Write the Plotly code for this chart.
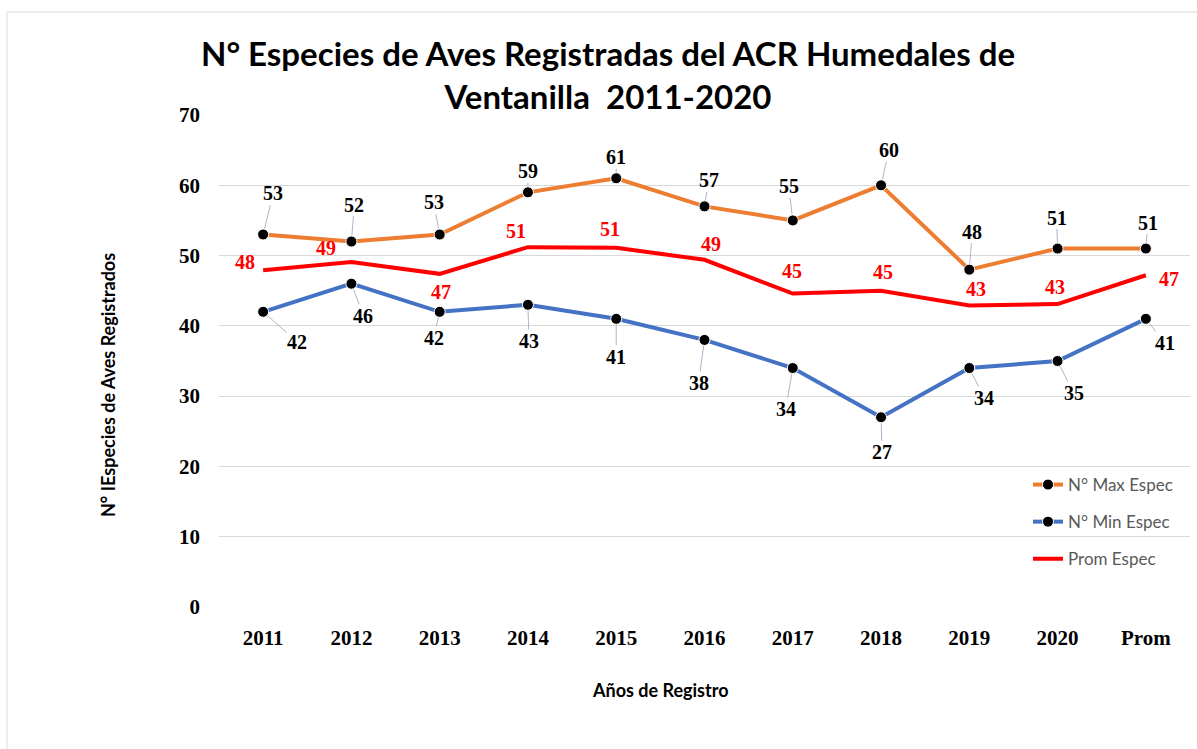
import plotly.graph_objects as go

# Bird species counts per year (ACR Humedales de Ventanilla)
categories = ["2011", "2012", "2013", "2014", "2015", "2016", "2017", "2018", "2019", "2020", "Prom"]
max_species = [53, 52, 53, 59, 61, 57, 55, 60, 48, 51, 51]
min_species = [42, 46, 42, 43, 41, 38, 34, 27, 34, 35, 41]
avg_species = [47.9, 49.1, 47.4, 51.2, 51.1, 49.4, 44.6, 45.0, 42.9, 43.1, 47.2]

# Label offsets in pixels (dx, dy; dy positive = downwards)
max_offsets = [(10, -41), (3, -37), (-6, -32), (0, -21), (0, -21), (4, -26),
               (-4, -34), (8, -35), (3, -38), (-1, -31), (2, -26)]
min_offsets = [(34, 30), (12, 32), (-6, 26), (1, 36), (0, 38), (-6, 43),
               (-7, 41), (1, 35), (15, 30), (16, 32), (19, 24)]
avg_offsets = [(-18, -8), (-25, -14), (1, 18), (-12, -16), (-6, -19), (6, -16),
               (-1, -23), (2, -19), (7, -16), (-3, -17), (23, 4)]

ORANGE = "#ED7D31"
BLUE = "#4472C4"
RED = "#FF0000"
LEADER = "#A9B7CB"
SERIF = "Liberation Serif"
SANS = "Lato"

W, H = 1197, 749
L, R, T, B = 219, 7, 115, 142
PW, PH = W - L - R, H - T - B


def px_x(px):
    return (px - L) / PW


def px_y(py):
    return (T + PH - py) / PH


marker_style = dict(symbol="circle", size=11, color="black", line=dict(color="white", width=1))

fig = go.Figure()
fig.add_trace(go.Scatter(
    x=categories, y=max_species, name="N° Max Espec", mode="lines+markers",
    line=dict(color=ORANGE, width=4), marker=marker_style, legendgroup="a"))
fig.add_trace(go.Scatter(
    x=categories, y=min_species, name="N° Min Espec", mode="lines+markers",
    line=dict(color=BLUE, width=4), marker=marker_style, legendgroup="b"))
fig.add_trace(go.Scatter(
    x=categories, y=avg_species, name="Prom Espec", mode="lines",
    line=dict(color=RED, width=4), legendgroup="c"))

# annotations on a category axis are placed by category index
annotations = []
label_font = dict(family=SERIF, size=20, color="black", weight="bold")
for i, (v, (dx, dy)) in enumerate(zip(max_species, max_offsets)):
    annotations.append(dict(
        x=i, y=v, text=f"{v:.0f}", showarrow=True, ax=dx, ay=dy,
        arrowhead=0, arrowwidth=1, arrowcolor=LEADER, standoff=6,
        font=label_font, borderpad=0))
for i, (v, (dx, dy)) in enumerate(zip(min_species, min_offsets)):
    annotations.append(dict(
        x=i, y=v, text=f"{v:.0f}", showarrow=True, ax=dx, ay=dy,
        arrowhead=0, arrowwidth=1, arrowcolor=LEADER, standoff=6,
        font=label_font, borderpad=0))
for i, (v, (dx, dy)) in enumerate(zip(avg_species, avg_offsets)):
    annotations.append(dict(
        x=i, y=v, text=f"{v:.0f}", showarrow=False, xshift=dx, yshift=-dy,
        font=dict(family=SERIF, size=20, color=RED, weight="bold")))

# axis titles
axis_title_font = dict(family=SANS, size=18, color="black", weight="bold")
annotations.append(dict(
    x=px_x(660), y=px_y(690), xref="paper", yref="paper",
    xanchor="center", yanchor="middle",
    text="Años de Registro", showarrow=False, font=axis_title_font))
annotations.append(dict(
    x=px_x(108), y=px_y(385), xref="paper", yref="paper",
    xanchor="center", yanchor="middle", textangle=-90,
    text="N° IEspecies de Aves Registrados", showarrow=False, font=axis_title_font))

# outer chart frame
shapes = [dict(
    type="rect", xref="paper", yref="paper",
    x0=px_x(7), x1=px_x(W + 5), y0=px_y(H + 5), y1=px_y(12),
    line=dict(color="#D9D9D9", width=1), fillcolor="rgba(0,0,0,0)", layer="below")]

fig.update_layout(
    width=W, height=H,
    margin=dict(l=L, r=R, t=T, b=B),
    paper_bgcolor="white", plot_bgcolor="white",
    title=dict(
        text="N° Especies de Aves Registradas del ACR Humedales de<br>Ventanilla  2011-2020",
        x=608 / W, xanchor="center", xref="container",
        y=1 - 66 / H, yanchor="top", yref="container",
        font=dict(family=SANS, size=33, color="black", weight="bold")),
    xaxis=dict(
        type="category", range=[-0.5, len(categories) - 0.5],
        showgrid=False, showline=False, zeroline=False,
        tickfont=dict(family=SERIF, size=21, color="black", weight="bold"),
        ticklabelstandoff=16),
    yaxis=dict(
        range=[0, 70], dtick=10, showgrid=True, gridcolor="#D9D9D9", gridwidth=1,
        zeroline=False, showline=False,
        tickfont=dict(family=SERIF, size=21, color="black", weight="bold"),
        ticklabelstandoff=18),
    legend=dict(
        x=px_x(1028), y=px_y(467), xanchor="left", yanchor="top",
        bgcolor="rgba(0,0,0,0)", tracegroupgap=12,
        font=dict(family=SANS, size=17, color="#595959")),
    annotations=annotations,
    shapes=shapes,
    showlegend=True,
)

fig.write_html("out.html")
